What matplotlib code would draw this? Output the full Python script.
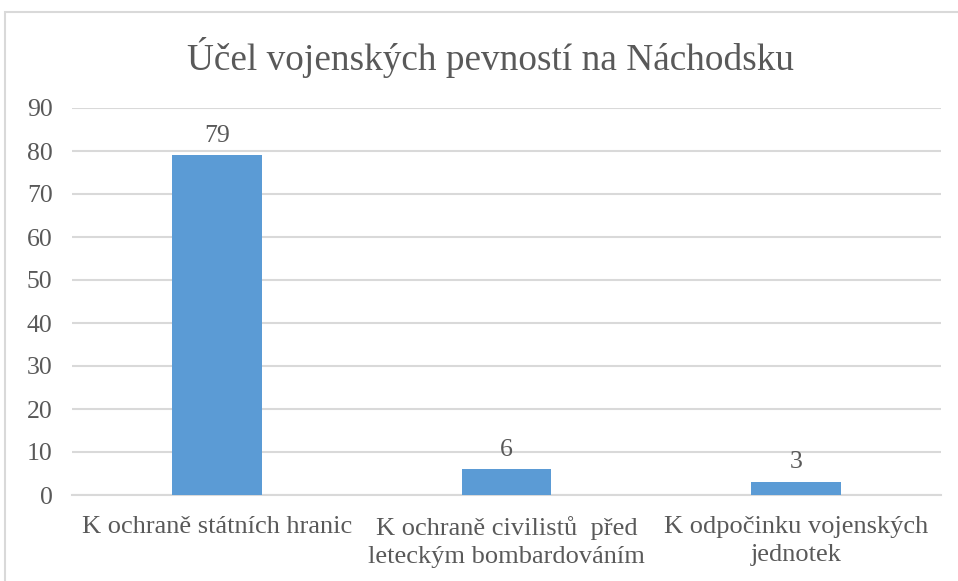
import matplotlib.pyplot as plt
from matplotlib.patches import Rectangle

# data
kategorie = ["K ochraně státních hranic",
             "K ochraně civilistů  před\nleteckým bombardováním",
             "K odpočinku vojenských\njednotek"]
hodnoty = [79, 6, 3]
y_ticky = list(range(0, 100, 10))

plt.rcParams['font.family'] = ['Liberation Serif', 'DejaVu Serif']
sedy = '#595959'

fig = plt.figure(figsize=(9.58, 5.81), dpi=100)
ax = fig.add_axes([72 / 958, 1 - 495 / 581, (941 - 72) / 958, (495 - 108) / 581])

x = range(len(kategorie))
ax.bar(x, hodnoty, width=0.31, color='#5B9BD5', zorder=3)
for i, v in zip(x, hodnoty):
    ax.text(i, v + 2.0, str(v), ha='center', va='bottom', fontsize=18.5, color=sedy)

ax.set_xlim(-0.5, len(kategorie) - 0.5)
ax.set_ylim(0, 90)
ax.set_yticks(y_ticky)
ax.set_xticks(list(x))
ax.set_xticklabels(kategorie, fontsize=19, color=sedy, linespacing=1.36)
ax.tick_params(axis='y', labelsize=18.5, labelcolor=sedy, length=0, pad=14)
ax.tick_params(axis='x', length=0, pad=15)
ax.yaxis.grid(True, color='#D9D9D9', linewidth=1.5, zorder=0)
for s in ['top', 'right', 'left']:
    ax.spines[s].set_visible(False)
ax.spines['bottom'].set_color('#D9D9D9')
ax.spines['bottom'].set_linewidth(1.5)

fig.text(490 / 958, 1 - 57 / 581, "Účel vojenských pevností na Náchodsku",
         ha='center', va='center', fontsize=26.8, color=sedy)

# ramecek grafu (pravy a spodni okraj mimo obrazek)
fig.patches.append(Rectangle((5 / 958, -0.05), 1.05, 1 - 12.5 / 581 + 0.05,
                             transform=fig.transFigure, fill=False,
                             edgecolor='#D9D9D9', linewidth=1.5))

fig.savefig('out.png', dpi=100)
